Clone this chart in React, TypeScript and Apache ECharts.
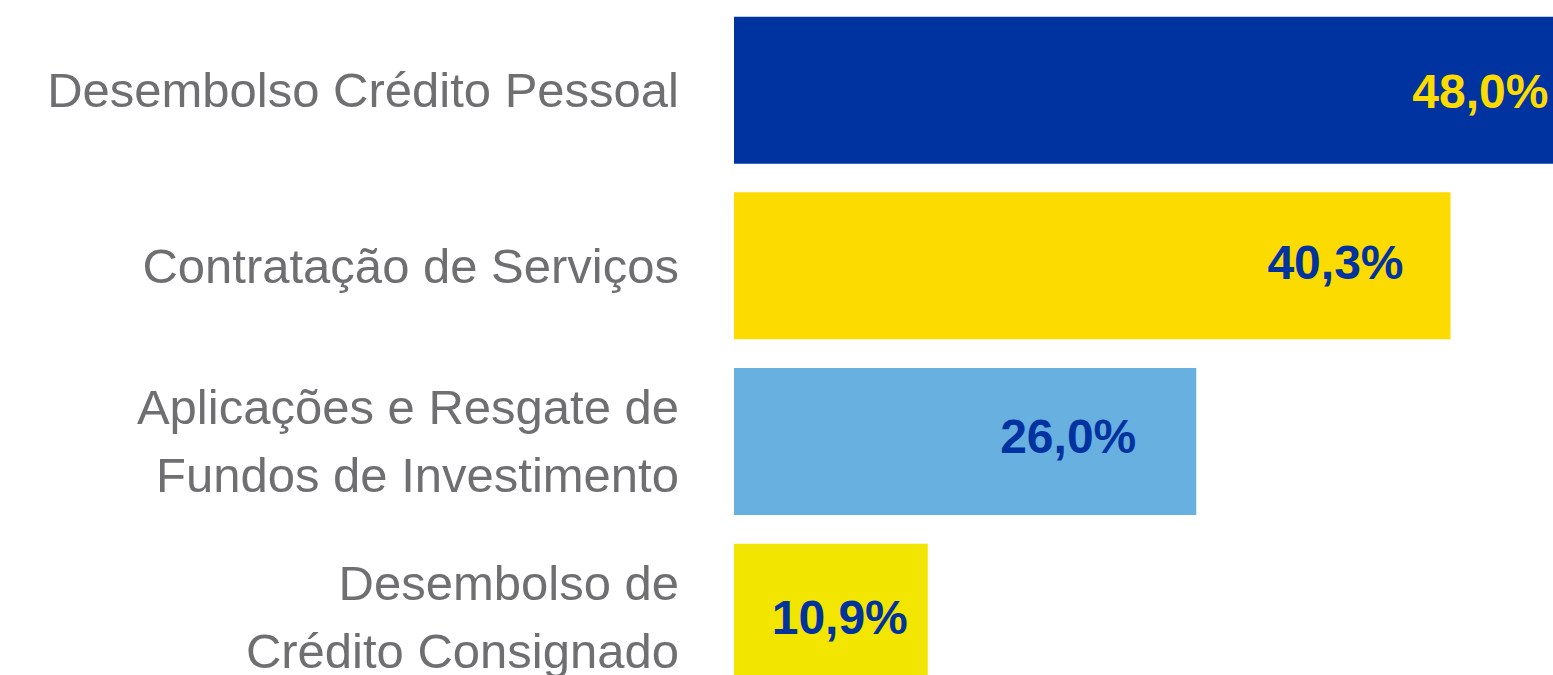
import React, { useEffect, useRef } from "react";
import * as echarts from "echarts";

const categories = [
  "Desembolso Crédito Pessoal",
  "Contratação de Serviços",
  "Aplicações e Resgate de\nFundos de Investimento",
  "Desembolso de\nCrédito Consignado",
];
const values = [48.0, 40.3, 26.0, 10.9];
const valueLabels = ["48,0%", "40,3%", "26,0%", "10,9%"];
const barColors = ["#0033A0", "#FCDB00", "#68B0E0", "#F2E600"];
const labelColors = ["#FCDB00", "#0033A0", "#0033A0", "#0033A0"];
// label nudges: [distance from bar end, vertical offset]
const labelDistance = [39, 47, 60, 20];
const labelDy = [1, -3, -5, 0];

export default function App() {
  const ref = useRef<HTMLDivElement>(null);
  useEffect(() => {
    document.body.style.overflow = "hidden";
    const chart = echarts.init(ref.current!, null, { renderer: "svg" });
    chart.setOption({
      animation: false,
      backgroundColor: "#ffffff",
      grid: { left: 734, right: 17, top: 2.3, bottom: 15 },
      xAxis: {
        type: "value",
        min: 0,
        max: 50,
        show: false,
        splitLine: { show: false },
      },
      yAxis: {
        type: "category",
        inverse: true,
        data: categories,
        axisLine: { show: false },
        axisTick: { show: false },
        axisLabel: {
          margin: 55,
          fontFamily: "Liberation Sans, Arial, sans-serif",
          fontSize: 49,
          lineHeight: 68,
          color: "#6F6F72",
          align: "right",
        },
      },
      series: [
        {
          type: "bar",
          barWidth: 147,
          data: values.map((v, i) => ({
            value: v,
            itemStyle: { color: barColors[i] },
            label: {
              show: true,
              position: "insideRight",
              distance: labelDistance[i],
              offset: [0, labelDy[i]],
              formatter: () => valueLabels[i],
              color: labelColors[i],
              fontFamily: "Liberation Sans, Arial, sans-serif",
              fontWeight: "bold",
              fontSize: 48,
            },
          })),
        },
      ],
    });
    return () => chart.dispose();
  }, []);
  return (
    <div
      ref={ref}
      style={{ position: "fixed", left: 0, top: 0, width: 1640, height: 720 }}
    />
  );
}
